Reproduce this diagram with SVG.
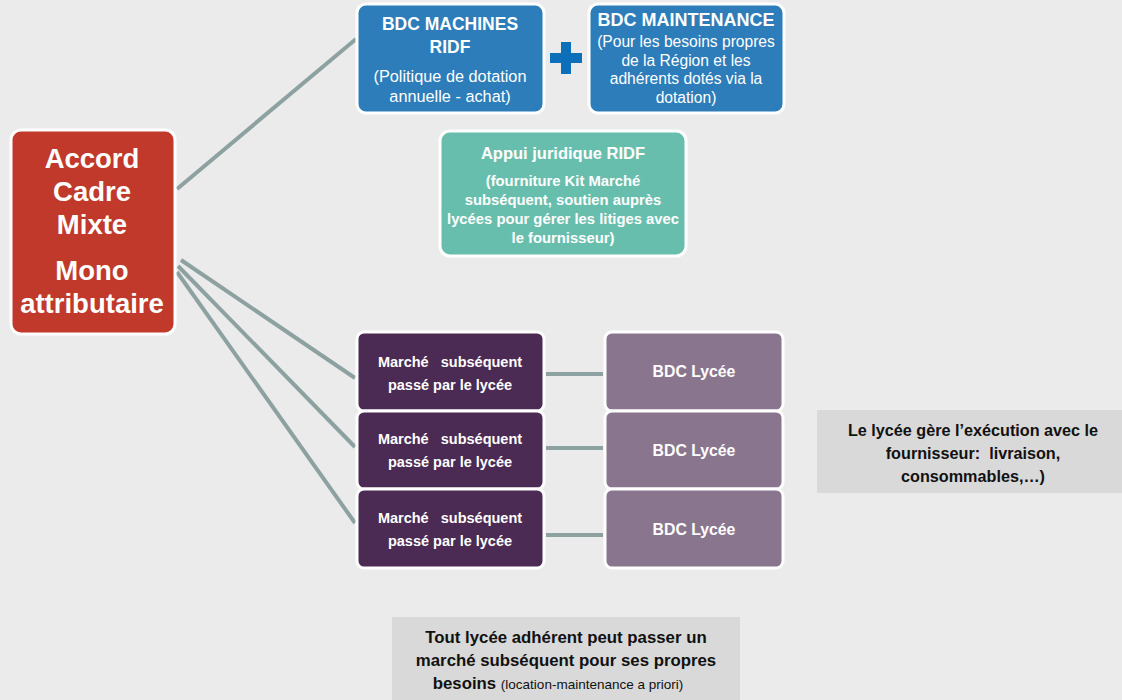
<svg xmlns="http://www.w3.org/2000/svg" width="1122" height="700" viewBox="0 0 1122 700">
<style>
text{font-family:"Liberation Sans",Arial,sans-serif;text-anchor:middle;white-space:pre;}
.b{font-weight:bold;}
.w{fill:#ffffff;}
.k{fill:#111111;}
.box{stroke:#ffffff;stroke-width:3;}
.conn line{stroke:#8ea1a1;stroke-width:4;stroke-linecap:butt;}
</style>
<rect x="0" y="0" width="1122" height="700" fill="#ebebeb"/>
<g class="conn" id="connectors">
<line x1="177" y1="189" x2="356" y2="39"/>
<line x1="181" y1="260" x2="355" y2="378"/>
<line x1="178" y1="266" x2="355" y2="447"/>
<line x1="177" y1="272" x2="355" y2="523"/>
<line x1="546" y1="374" x2="603" y2="374"/>
<line x1="546" y1="448" x2="603" y2="448"/>
<line x1="546" y1="535" x2="603" y2="535"/>
</g>
<g id="accord">
<rect class="box" x="11" y="130" width="164" height="204" rx="10" fill="#c0392b"/>
<text class="b w" font-size="27.5"><tspan x="92" y="168">Accord</tspan><tspan x="92" y="201">Cadre</tspan><tspan x="92" y="234">Mixte</tspan><tspan x="92" y="280">Mono</tspan><tspan x="92" y="313">attributaire</tspan></text>
</g>
<g id="bdc-machines">
<rect class="box" x="357" y="4" width="187" height="109" rx="9" fill="#2c7dba"/>
<text class="b w" font-size="17.5"><tspan x="450" y="30">BDC MACHINES</tspan><tspan x="450" y="53">RIDF</tspan></text>
<text class="w" font-size="16.3"><tspan x="450" y="82">(Politique de dotation</tspan><tspan x="450" y="102">annuelle - achat)</tspan></text>
</g>
<g id="plus">
<rect x="550" y="53" width="32" height="10" fill="#0b6fba"/>
<rect x="561" y="42" width="10" height="32" fill="#0b6fba"/>
</g>
<g id="bdc-maintenance">
<rect class="box" x="589" y="4" width="195" height="109" rx="9" fill="#2c7dba"/>
<text class="b w" font-size="18"><tspan x="686" y="26">BDC MAINTENANCE</tspan></text>
<text class="w" font-size="15.6"><tspan x="686" y="47">(Pour les besoins propres</tspan><tspan x="686" y="66">de la Région et les</tspan><tspan x="686" y="84">adhérents dotés via la</tspan><tspan x="686" y="103">dotation)</tspan></text>
</g>
<g id="appui">
<rect class="box" x="440" y="131" width="246" height="125" rx="10" fill="#68bead"/>
<text class="b w" font-size="16.5"><tspan x="563" y="159">Appui juridique RIDF</tspan></text>
<text class="b w" font-size="14.8"><tspan x="563" y="186">(fourniture Kit Marché</tspan><tspan x="563" y="205">subséquent, soutien auprès</tspan><tspan x="563" y="224">lycées pour gérer les litiges avec</tspan><tspan x="563" y="243">le fournisseur)</tspan></text>
</g>
<g id="marche1">
<rect class="box" x="357" y="332" width="187" height="79" rx="7" fill="#4b2a53"/>
<text class="b w" font-size="14.5"><tspan x="450" y="367">Marché   subséquent</tspan><tspan x="450" y="390">passé par le lycée</tspan></text>
</g>
<g id="marche2">
<rect class="box" x="357" y="411" width="187" height="78" rx="7" fill="#4b2a53"/>
<text class="b w" font-size="14.5"><tspan x="450" y="444">Marché   subséquent</tspan><tspan x="450" y="467">passé par le lycée</tspan></text>
</g>
<g id="marche3">
<rect class="box" x="357" y="489" width="187" height="79" rx="7" fill="#4b2a53"/>
<text class="b w" font-size="14.5"><tspan x="450" y="523">Marché   subséquent</tspan><tspan x="450" y="546">passé par le lycée</tspan></text>
</g>
<g id="bdc-lycee1">
<rect class="box" x="605" y="332" width="178" height="79" rx="7" fill="#8a758e"/>
<text class="b w" font-size="15.8" x="694" y="377">BDC Lycée</text>
</g>
<g id="bdc-lycee2">
<rect class="box" x="605" y="411" width="178" height="78" rx="7" fill="#8a758e"/>
<text class="b w" font-size="15.8" x="694" y="456">BDC Lycée</text>
</g>
<g id="bdc-lycee3">
<rect class="box" x="605" y="489" width="178" height="79" rx="7" fill="#8a758e"/>
<text class="b w" font-size="15.8" x="694" y="535">BDC Lycée</text>
</g>
<g id="note-execution">
<rect x="817" y="410" width="305" height="83" fill="#d9d9d9"/>
<text class="b k" font-size="16.2"><tspan x="973" y="436">Le lycée gère l’exécution avec le</tspan><tspan x="973" y="459">fournisseur:  livraison,</tspan><tspan x="973" y="482">consommables,…)</tspan></text>
</g>
<g id="note-adherent">
<rect x="392" y="617" width="348" height="83" fill="#d9d9d9"/>
<text class="b k" font-size="16.8"><tspan x="566" y="643">Tout lycée adhérent peut passer un</tspan><tspan x="566" y="666">marché subséquent pour ses propres</tspan><tspan x="558" y="689">besoins <tspan font-weight="normal" font-size="13.5">(location-maintenance a priori)</tspan></tspan></text>
</g>
</svg>
